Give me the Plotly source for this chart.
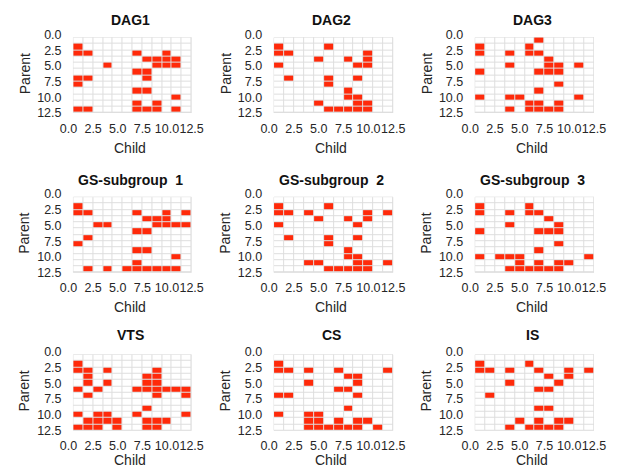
import plotly.graph_objects as go

# ---- data: for each parent (row 1..12) the list of children (columns 1..12) with an edge ----
nodes = list(range(1, 13))
tick_vals = [0, 2.5, 5, 7.5, 10, 12.5]
tick_text = ["0.0", "2.5", "5.0", "7.5", "10.0", "12.5"]

titles = ["DAG1", "DAG2", "DAG3",
          "GS-subgroup\u00a0 1", "GS-subgroup\u00a0 2", "GS-subgroup\u00a0 3",
          "VTS", "CS", "IS"]

dag1 = [[], [1], [1, 2, 7, 10], [8, 9, 10, 11], [4, 9, 10, 11], [7, 8],
        [1, 2, 8], [1], [7, 8], [11], [7, 9], [1, 2, 7, 8, 9, 11]]
dag2 = [[], [1, 6], [1, 2, 10], [5, 8, 10], [1, 9, 10], [],
        [2, 6, 9], [6], [8], [8, 9], [5, 9, 10], [6, 7, 8, 9, 10]]
dag3 = [[7], [1, 6], [1, 4, 6, 7], [8], [4, 8, 9, 11], [1, 7, 8, 9],
        [], [9], [7], [1, 4, 5, 11], [6, 7, 9], [4, 6, 7, 8, 9]]
gs1 = [[], [1], [1, 2, 7, 10, 12], [8, 9, 10], [3, 4, 9, 10, 11, 12], [7, 8],
       [2], [1], [7, 8], [11], [7], [2, 4, 6, 7, 8, 9, 10, 11]]
gs2 = [[], [1, 6], [1, 2, 4, 10, 12], [5, 8, 10], [1, 9], [],
       [2, 6, 9], [6], [8], [8, 9], [4, 5, 9, 10, 12], [6, 7, 8, 9, 10]]
gs3 = [[], [1, 6], [1, 4, 6, 7], [8], [4, 9], [1, 7, 8, 9],
       [], [9], [7], [1, 3, 4, 5, 12], [5, 7, 9, 10], [4, 5, 6, 7, 8, 9]]
vts = [[], [1], [1, 2, 4, 9], [2, 8, 9], [2, 4, 8, 9], [1, 3, 7, 8, 9, 10, 11, 12],
       [2, 9, 12], [], [8], [1, 3, 4, 7, 12], [2, 3, 4, 5, 8, 9, 10], [1, 2, 3, 5, 8, 9]]
cs = [[], [1], [1, 2, 4, 7, 12], [8, 9], [4, 9], [7, 8],
      [1, 2, 9], [], [8], [1, 4, 5], [4, 5, 7, 9, 10], [4, 5, 6, 7, 8, 9, 11]]
is_ = [[], [1, 6], [1, 2, 4, 7, 10, 12], [8, 10], [4, 9], [7, 8],
       [2], [], [7, 8], [], [5, 7, 9, 10], [4, 6, 7, 8, 9]]

panels = [dag1, dag2, dag3, gs1, gs2, gs3, vts, cs, is_]

# ---- layout geometry (pixels in a 621 x 476 page) ----
W, H = 621, 476
col_px = [(61.6, 189.0), (269.2, 397.7), (477.4, 605.5)]
row_px = [(28.3, 109.3), (192.7, 273.7), (355.0, 436.5)]
title_y = [13, 178, 338]
child_y = [145, 309, 467]
parent_x = [16, 224, 432]

RED = "#ff2a0a"
GRID = "#dedede"
FONT = "Liberation Sans, Arial, sans-serif"

fig = go.Figure()
annotations = []
shapes = []
lo, hi = min(nodes) - 0.5, max(nodes) + 0.5

for i, (title, edges) in enumerate(zip(titles, panels)):
    k = i + 1
    r, c = divmod(i, 3)
    z = [[1 if child in edges[p - 1] else 0 for child in nodes] for p in nodes]
    xs = "x" if k == 1 else f"x{k}"
    ys = "y" if k == 1 else f"y{k}"
    fig.add_trace(go.Heatmap(
        x=nodes, y=nodes, z=z, xaxis=xs, yaxis=ys,
        colorscale=[[0, "white"], [1, RED]], zmin=0, zmax=1,
        showscale=False, xgap=1, ygap=1, hoverinfo="skip"))

    x0, x1 = col_px[c]
    y0, y1 = row_px[r]
    common = dict(showgrid=False, zeroline=False, showline=False, ticks="",
                  tickmode="array", tickvals=tick_vals, ticktext=tick_text,
                  tickangle=0,
                  tickfont=dict(family=FONT, size=12.5, color="#262626"))
    fig.update_layout(**{
        f"xaxis{'' if k == 1 else k}": dict(domain=[x0 / W, x1 / W], range=[0, 12.5],
                                             anchor=ys, ticklabelstandoff=6, **common),
        f"yaxis{'' if k == 1 else k}": dict(domain=[1 - y1 / H, 1 - y0 / H], range=[12.5, 0],
                                             anchor=xs, ticklabelstandoff=6, **common),
    })
    shapes.append(dict(type="rect", xref=xs, yref=ys, x0=lo, x1=hi, y0=lo, y1=hi,
                       fillcolor=GRID, line=dict(color=GRID, width=1), layer="below"))
    cx = (x0 + x1) / 2
    annotations.append(dict(text=f"<b>{title}</b>", x=cx / W, y=1 - title_y[r] / H,
                            xref="paper", yref="paper", showarrow=False,
                            xanchor="center", yanchor="middle",
                            font=dict(family=FONT, size=14, color="#111111")))
    annotations.append(dict(text="Child", x=cx / W, y=1 - child_y[r] / H,
                            xref="paper", yref="paper", showarrow=False,
                            xanchor="center", yanchor="middle",
                            font=dict(family=FONT, size=14, color="#262626")))
    annotations.append(dict(text="Parent", x=parent_x[c] / W, y=1 - ((y0 + y1) / 2) / H,
                            xref="paper", yref="paper", showarrow=False, textangle=-90,
                            xanchor="center", yanchor="middle",
                            font=dict(family=FONT, size=14, color="#262626")))

fig.update_layout(width=W, height=H, margin=dict(l=0, r=0, t=0, b=0),
                  paper_bgcolor="white", plot_bgcolor="white",
                  annotations=annotations, shapes=shapes, showlegend=False)

fig.write_html("out.html")
